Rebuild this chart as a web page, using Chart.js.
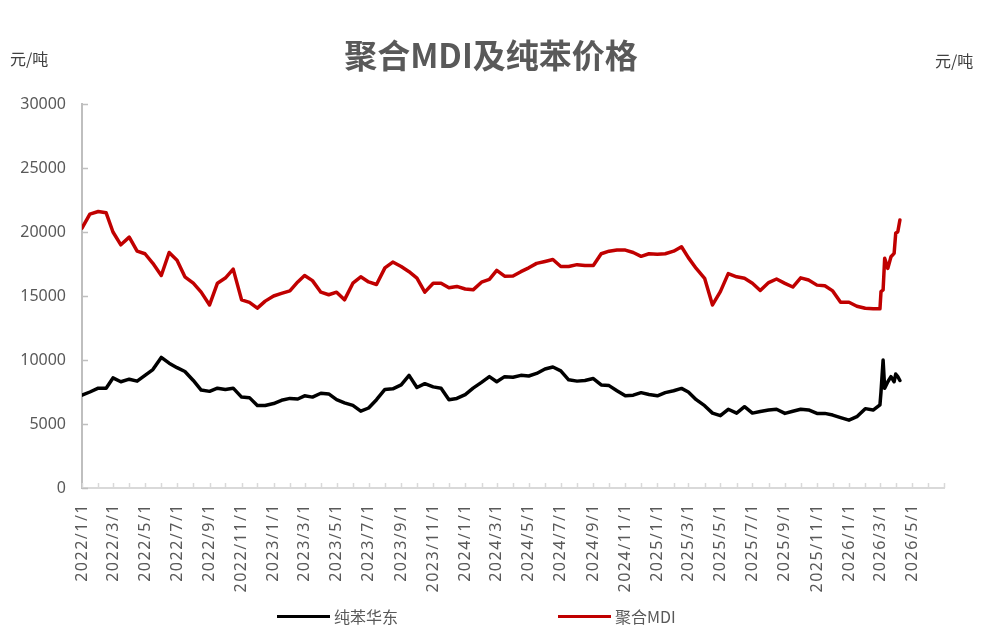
<!DOCTYPE html>
<html>
<head>
<meta charset="utf-8">
<script src="https://cdn.jsdelivr.net/npm/chart.js@4.4.1/dist/chart.umd.min.js"></script>
<style>
  html, body { margin:0; padding:0; background:#fff; }
  #wrap { position:relative; width:982px; height:643px; font-family:"Noto Sans CJK SC","Noto Sans",sans-serif; }
  #wrap canvas { position:absolute; left:0; top:0; }
  .title { position:absolute; left:0; width:982px; top:30px; text-align:center; font-size:33px; font-weight:700; color:#595959; }
  .unit { position:absolute; top:46px; font-size:16px; color:#404040; }
  .lg { position:absolute; top:604px; font-size:16px; color:#595959; display:flex; align-items:center; }
  .lg i { display:inline-block; width:53px; height:3px; margin-right:4px; }
</style>
</head>
<body>
<div id="wrap">
  <canvas id="c" width="982" height="643"></canvas>
  <div class="title">聚合MDI及纯苯价格</div>
  <div class="unit" style="left:10px">元/吨</div>
  <div class="unit" style="left:935px;top:48px">元/吨</div>
  <div id="legend"></div>
</div>
<script>
// half-month samples 2022/1/1 .. 2026/2/16, then the March/April 2026 run-up
const EXTRA_DATES = ["2026/3/1","2026/3/3","2026/3/7","2026/3/10","2026/3/16","2026/3/22","2026/3/28","2026/3/31","2026/4/4","2026/4/8"];

const MDI = [
  20300,21400,21600,21500,20000,19000,19600,18500,18300,17550,
  16600,18400,17800,16500,16000,15300,14300,16000,16400,17100,
  14700,14500,14050,14600,15000,15200,15400,16100,16600,16200,
  15300,15100,15300,14700,16000,16500,16100,15900,17200,17650,
  17300,16900,16400,15300,16000,16000,15650,15750,15550,15480,
  16080,16300,17000,16550,16560,16900,17200,17550,17700,17850,
  17300,17300,17450,17380,17380,18300,18500,18600,18590,18400,
  18100,18300,18260,18300,18500,18850,18000,17150,16380,14300,
  15340,16750,16500,16380,16000,15430,16050,16330,15990,15700,
  16420,16250,15850,15800,15400,14510,14510,14200,14040,14000,
  14000,15340,15470,17940,17160,18070,18330,19900,20020,20940
];

const BENZENE = [
  7250,7500,7800,7800,8600,8300,8500,8350,8800,9250,
  10200,9750,9400,9100,8400,7650,7550,7800,7700,7800,
  7100,7060,6450,6450,6600,6850,7000,6950,7200,7100,
  7400,7350,6900,6650,6450,6000,6250,6900,7700,7750,
  8050,8800,7850,8150,7900,7800,6900,7000,7300,7800,
  8250,8700,8300,8700,8650,8800,8750,8950,9300,9450,
  9150,8450,8350,8400,8550,8050,8000,7600,7200,7250,
  7450,7300,7200,7450,7600,7780,7500,6900,6430,5850,
  5650,6150,5850,6350,5850,5970,6090,6150,5830,6000,
  6150,6100,5830,5830,5700,5500,5300,5570,6200,6090,
  6500,7500,10000,7790,8300,8700,8300,8900,8700,8400
];

const X_LABELS = [
  "2022/1/1","2022/3/1","2022/5/1","2022/7/1","2022/9/1","2022/11/1",
  "2023/1/1","2023/3/1","2023/5/1","2023/7/1","2023/9/1","2023/11/1",
  "2024/1/1","2024/3/1","2024/5/1","2024/7/1","2024/9/1","2024/11/1",
  "2025/1/1","2025/3/1","2025/5/1","2025/7/1","2025/9/1","2025/11/1",
  "2026/1/1","2026/3/1","2026/5/1"
];
const X_END = "2026/7/1";

const SERIES = [
  {label:"纯苯华东", data:BENZENE, color:"#000000"},
  {label:"聚合MDI",  data:MDI,     color:"#C00000"}
];

const START = Date.UTC(2022,0,1);
function dayOf(s){
  const p = s.split("/").map(Number);
  return (Date.UTC(p[0],p[1]-1,p[2]) - START)/864e5;
}
function fmtDay(v){
  const d = new Date(START + v*864e5);
  return d.getUTCFullYear()+"/"+(d.getUTCMonth()+1)+"/"+d.getUTCDate();
}

const DATES = [];
for (let y=2022; y<=2026; y++){
  for (let m=1; m<=12; m++){
    if (y===2026 && m>2) break;
    DATES.push(y+"/"+m+"/1", y+"/"+m+"/16");
  }
}
DATES.push(...EXTRA_DATES);

// monthly tick marks, labels every second month
const MONTH_TICKS = [];
for (let v=0, y=2022, m=1; v<=dayOf(X_END); ){
  MONTH_TICKS.push(v);
  m++; if (m>12){ m=1; y++; }
  v = dayOf(y+"/"+m+"/1");
}

const axisExtras = {
  id:"axisExtras",
  afterLayout(chart){
    // the date labels in the original are set with a little letter spacing
    const sx = chart.scales.x;
    if (sx._spaced) return;
    const orig = sx.drawLabels.bind(sx);
    sx.drawLabels = function(area){
      this.ctx.save(); this.ctx.letterSpacing = "1.5px"; orig(area); this.ctx.restore();
    };
    sx._spaced = true;
  },
  afterDraw(chart){
    // tick marks point into the plot
    const {ctx, chartArea:a, scales:{x, y}} = chart;
    ctx.save();
    ctx.lineWidth = 1.5;
    ctx.strokeStyle = "#d9d9d9";
    for (const t of x.ticks){
      const px = Math.round(x.getPixelForValue(t.value))+0.5;
      ctx.beginPath(); ctx.moveTo(px, a.bottom); ctx.lineTo(px, a.bottom-5); ctx.stroke();
    }
    ctx.strokeStyle = "#bfbfbf";
    for (const t of y.ticks){
      const py = Math.round(y.getPixelForValue(t.value))+0.5;
      ctx.beginPath(); ctx.moveTo(a.left, py); ctx.lineTo(a.left+6, py); ctx.stroke();
    }
    ctx.restore();
  }
};

const chart = new Chart(document.getElementById("c"), {
  type:"line",
  data:{
    datasets: SERIES.map(s=>({
      label:s.label,
      data:DATES.map((d,i)=>({x:dayOf(d), y:s.data[i]})),
      borderColor:s.color, backgroundColor:s.color,
      borderWidth:3.5, pointRadius:0, tension:0,
      borderJoinStyle:"round", borderCapStyle:"round"
    }))
  },
  options:{
    responsive:false, animation:false,
    layout:{padding:{top:104, right:38, left:0, bottom:0}},
    plugins:{legend:{display:false}, tooltip:{enabled:false}},
    scales:{
      x:{
        type:"linear", min:0, max:dayOf(X_END),
        afterBuildTicks(sc){ sc.ticks = MONTH_TICKS.map(v=>({value:v})); },
        afterFit(sc){ sc.height = 155; },
        grid:{display:false, drawTicks:false},
        border:{display:true, color:"#d9d9d9", width:2},
        ticks:{
          autoSkip:false, minRotation:90, maxRotation:90, padding:15,
          color:"#595959", font:{family:"Noto Sans", size:16},
          callback:(v)=>{ const s=fmtDay(v); return X_LABELS.includes(s) ? s : ""; }
        }
      },
      y:{
        min:0, max:30000,
        afterFit(sc){ sc.width = 82; },
        grid:{display:false, drawTicks:false},
        border:{display:true, color:"#bfbfbf", width:2},
        ticks:{stepSize:5000, padding:16, color:"#595959", font:{family:"Noto Sans", size:16},
               callback:(v)=>String(v)}
      }
    }
  },
  plugins:[axisExtras]
});

// legend below the axis labels, built from the datasets
const LEGEND_X = [277, 558];
document.getElementById("legend").innerHTML = chart.data.datasets.map((ds,i)=>
  `<div class="lg" style="left:${LEGEND_X[i]}px"><i style="background:${ds.borderColor}"></i>${ds.label}</div>`
).join("");
</script>
</body>
</html>
